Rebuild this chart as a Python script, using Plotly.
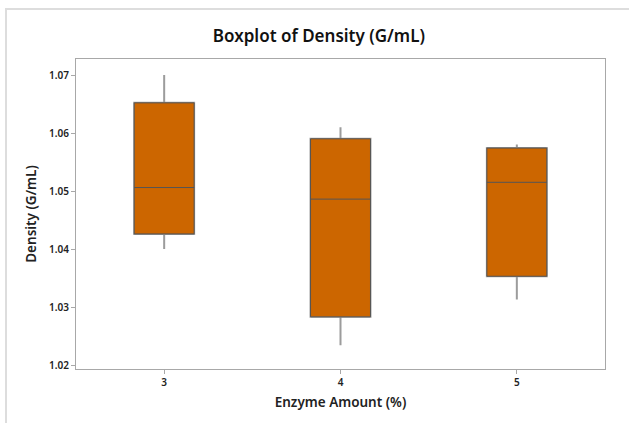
import plotly.graph_objects as go

# Data
enzyme = [3, 4, 5]
lower_whisker = [1.0400, 1.0234, 1.0313]
q1 = [1.0426, 1.0283, 1.0353]
median = [1.0506, 1.0486, 1.0515]
q3 = [1.0652, 1.0590, 1.0574]
upper_whisker = [1.0700, 1.0610, 1.0580]
y_ticks = [1.02, 1.03, 1.04, 1.05, 1.06, 1.07]
x_ticks = [3, 4, 5]

FILL = "#CC6600"
FONT = "Noto Sans"

fig = go.Figure()
# whiskers (light gray)
fig.add_trace(go.Box(
    x=enzyme, q1=q1, median=median, q3=q3,
    lowerfence=lower_whisker, upperfence=upper_whisker,
    width=0.34, whiskerwidth=0, fillcolor=FILL,
    line=dict(color="#9c9c9c", width=2), boxpoints=False,
    hoverinfo="skip", showlegend=False,
))
# box outline (dark gray)
fig.add_trace(go.Box(
    x=enzyme, q1=q1, median=median, q3=q3,
    lowerfence=q1, upperfence=q3,
    width=0.34, whiskerwidth=0, fillcolor=FILL,
    line=dict(color="#555555", width=1), boxpoints=False,
    hoverinfo="skip", showlegend=False,
))

fig.update_layout(
    width=629, height=423,
    margin=dict(l=76, r=24, t=59, b=54),
    paper_bgcolor="white", plot_bgcolor="white",
    boxmode="overlay",
    font=dict(family=FONT, color="#222222"),
    title=dict(text="Boxplot of Density (G/mL)", x=0.507, xref="container",
               xanchor="center", y=0.915, yref="container", yanchor="middle",
               font=dict(size=17, family=FONT, weight=600, color="#111111")),
    xaxis=dict(
        range=[2.5, 5.5], tickvals=x_ticks, ticktext=[str(v) for v in x_ticks],
        showgrid=False, zeroline=False,
        showline=True, mirror=True, linecolor="#a8a8a8", linewidth=1,
        ticks="outside", ticklen=4, tickcolor="#a8a8a8",
        tickfont=dict(size=10, family=FONT, weight=600),
        title=dict(text="Enzyme Amount (%)", standoff=9,
                   font=dict(size=13.5, family=FONT, weight=600)),
    ),
    yaxis=dict(
        range=[1.01931, 1.07276], tickvals=y_ticks,
        ticktext=[f"{v:.2f}" for v in y_ticks],
        showgrid=False, zeroline=False,
        showline=True, mirror=True, linecolor="#a8a8a8", linewidth=1,
        ticks="outside", ticklen=4, tickcolor="#a8a8a8",
        tickfont=dict(size=10, family=FONT, weight=600),
        title=dict(text="Density (G/mL)", standoff=9,
                   font=dict(size=13.5, family=FONT, weight=600)),
    ),
)

# outer light-gray frame (top and left edges visible)
fig.add_shape(type="rect", xref="paper", yref="paper",
              x0=(6 - 76) / 529, x1=(640 - 76) / 529,
              y0=(369 - 430) / 310, y1=(369 - 9) / 310,
              line=dict(color="#dddddd", width=2), layer="below")

fig.write_html("out.html")
